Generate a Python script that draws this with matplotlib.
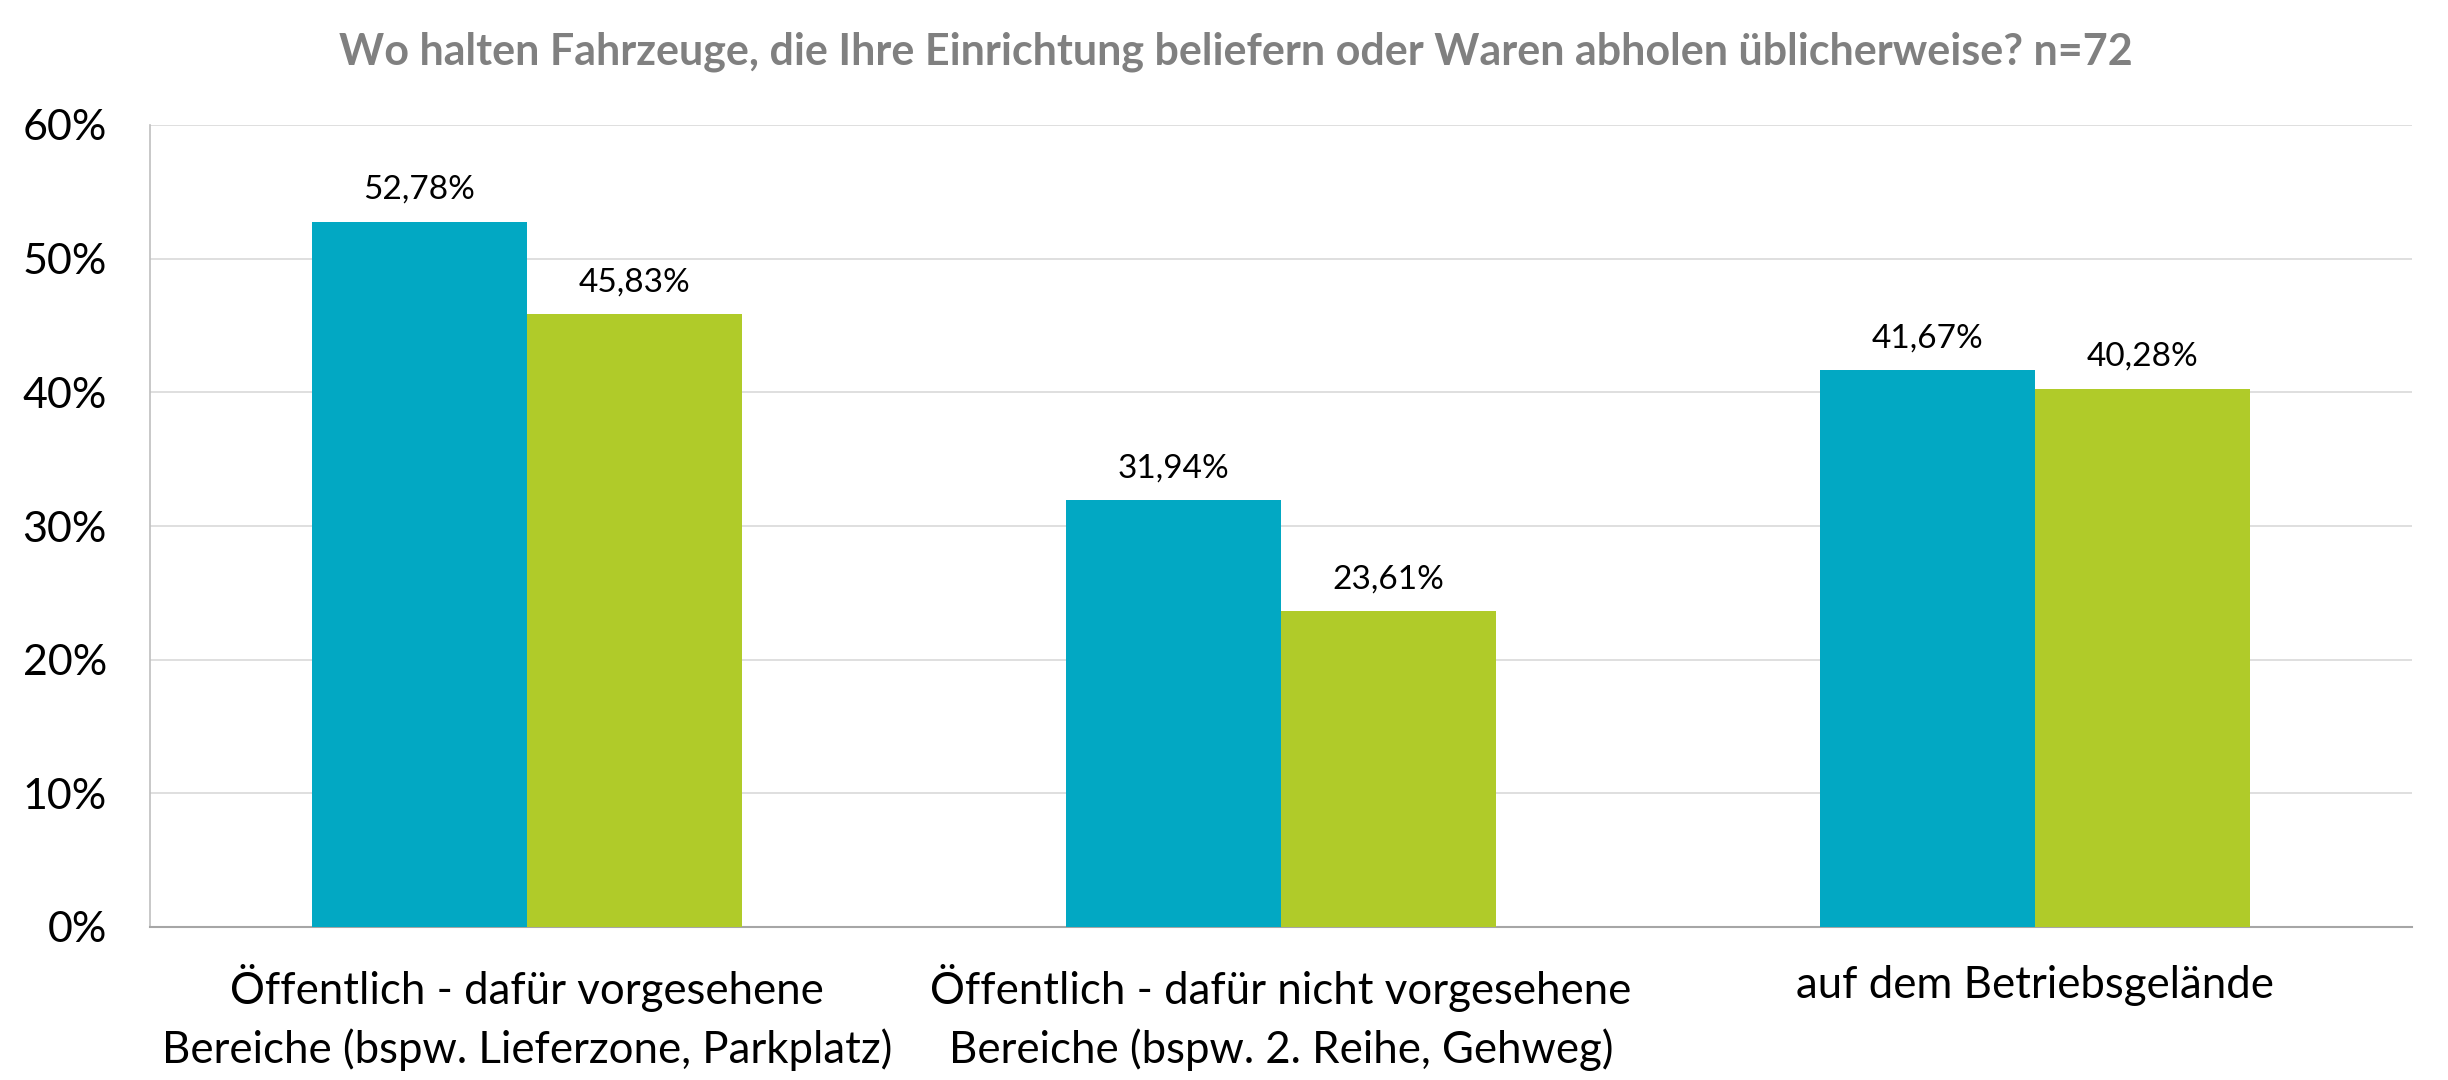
import numpy as np
import matplotlib.pyplot as plt

plt.rcParams['font.family'] = ['Lato', 'DejaVu Sans']

kategorien = [
    'Öffentlich - dafür vorgesehene\nBereiche (bspw. Lieferzone, Parkplatz)',
    'Öffentlich - dafür nicht vorgesehene\nBereiche (bspw. 2. Reihe, Gehweg)',
    'auf dem Betriebsgelände',
]
werte_serie1 = [52.78, 31.94, 41.67]
werte_serie2 = [45.83, 23.61, 40.28]
y_ticks = [0, 10, 20, 30, 40, 50, 60]

TUERKIS = '#02A8C3'
GRUEN = '#B0CB29'

fig = plt.figure(figsize=(24.48, 10.8), dpi=100)
ax = fig.add_axes([150 / 2448, 1 - 927 / 1080, (2412 - 150) / 2448, (927 - 125) / 1080])

x = np.arange(len(kategorien))
breite = 1 / 3.5
balken1 = ax.bar(x - breite / 2, werte_serie1, breite, color=TUERKIS, zorder=3)
balken2 = ax.bar(x + breite / 2, werte_serie2, breite, color=GRUEN, zorder=3)

for balken, werte in [(balken1, werte_serie1), (balken2, werte_serie2)]:
    for b, v in zip(balken, werte):
        ax.annotate(f'{v:.2f}%'.replace('.', ','),
                    (b.get_x() + b.get_width() / 2, v),
                    xytext=(0, 23), textcoords='offset points',
                    ha='center', va='center', fontsize=24, color='black')

ax.set_xlim(-0.5, 2.5)
ax.set_ylim(0, 60)
ax.set_yticks(y_ticks)
ax.set_yticklabels([f'{t}%' for t in y_ticks], fontsize=31)
ax.set_xticks(x)
ax.set_xticklabels(kategorien, fontsize=31.5, linespacing=1.45)
ax.tick_params(axis='both', length=0)
ax.tick_params(axis='y', pad=31)
ax.tick_params(axis='x', pad=27)

ax.grid(axis='y', color='#D9D9D9', linewidth=1.2, zorder=0)
for s in ['top', 'right']:
    ax.spines[s].set_visible(False)
ax.spines['left'].set_color('#BFBFBF')
ax.spines['left'].set_linewidth(1.2)
ax.spines['bottom'].set_color('#A6A6A6')
ax.spines['bottom'].set_linewidth(1.5)

fig.text(0.505, 1 - 52 / 1080,
         'Wo halten Fahrzeuge, die Ihre Einrichtung beliefern oder Waren abholen üblicherweise? n=72',
         ha='center', va='center', fontsize=31, fontweight='bold', color='#808080')

fig.savefig('out.png', dpi=100, facecolor='white')
